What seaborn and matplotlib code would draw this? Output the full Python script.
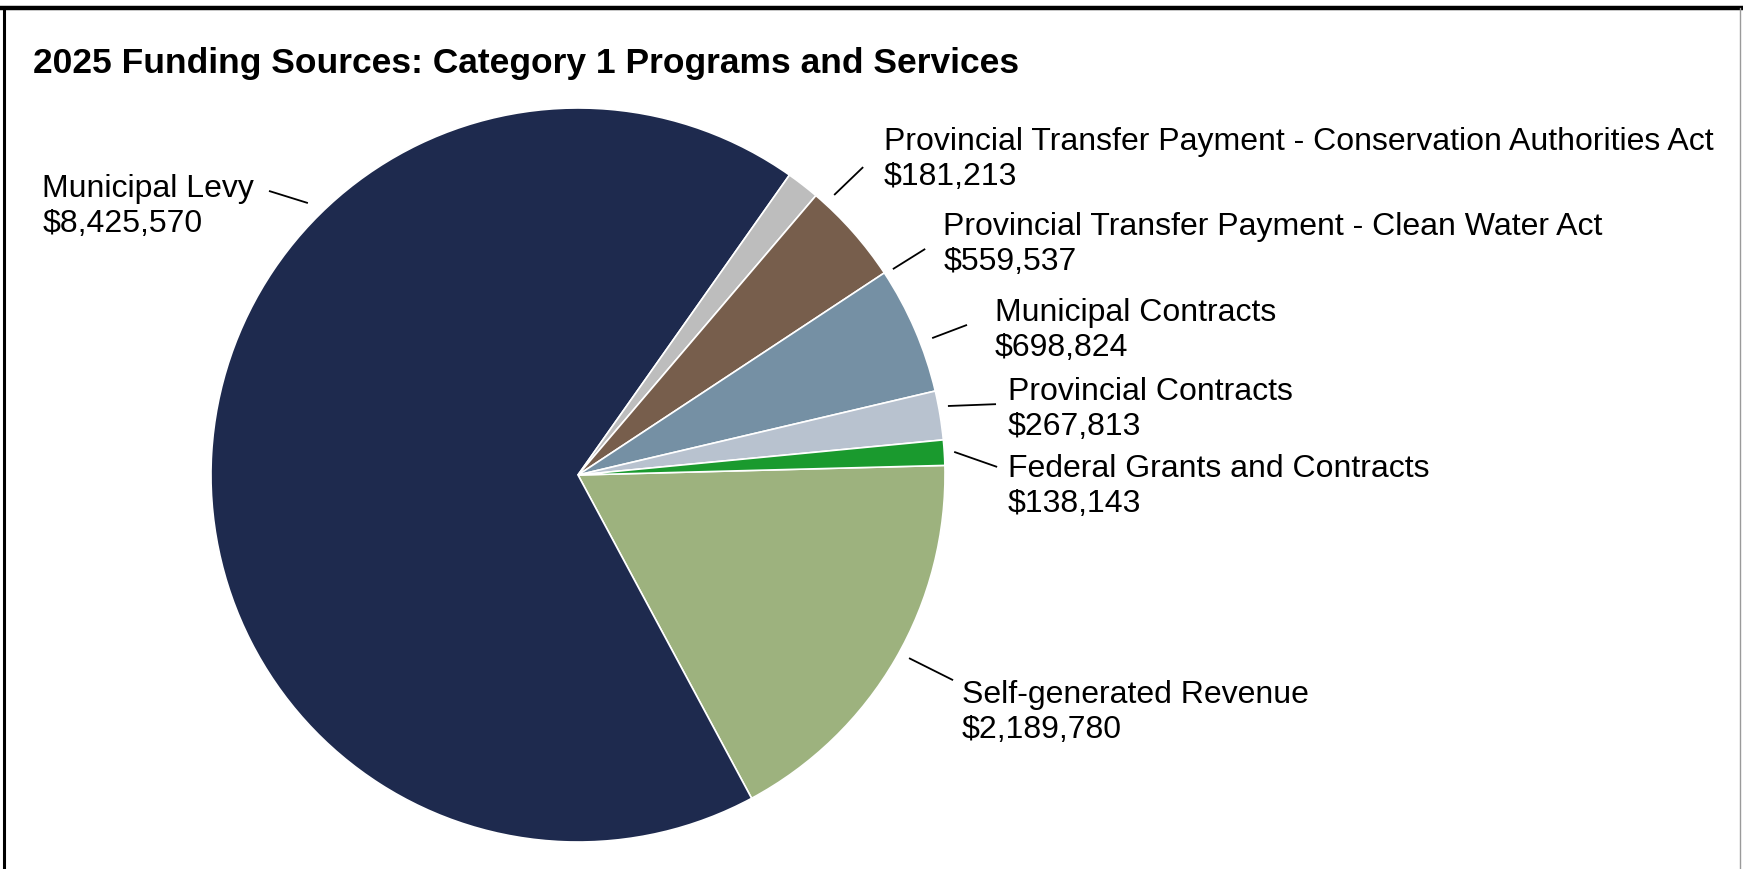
import matplotlib
matplotlib.use("Agg")
import matplotlib.pyplot as plt
import seaborn as sns
from matplotlib.lines import Line2D

# ---- data ----
categories = [
    "Self-generated Revenue",
    "Municipal Levy",
    "Provincial Transfer Payment - Conservation Authorities Act",
    "Provincial Transfer Payment - Clean Water Act",
    "Municipal Contracts",
    "Provincial Contracts",
    "Federal Grants and Contracts",
]
values = [2189780, 8425570, 181213, 559537, 698824, 267813, 138143]
colors = ["#9DB27E", "#1E2A4E", "#BDBDBD", "#775E4C", "#7590A4", "#B8C2CF", "#1A9A2E"]
title = "2025 Funding Sources: Category 1 Programs and Services"

# ---- layout (label anchor positions and leader lines, in pie-radius units) ----
label_pos = [(1.046, -0.646), (-1.460, 0.731), (0.834, 0.860), (0.995, 0.629),
             (1.136, 0.393), (1.172, 0.179), (1.172, -0.032)]
leaders = [((0.902, -0.499), (1.022, -0.559)),
           ((-0.842, 0.774), (-0.736, 0.741)),
           ((0.698, 0.763), (0.777, 0.839)),
           ((0.858, 0.561), (0.946, 0.616)),
           ((0.965, 0.373), (1.060, 0.409)),
           ((1.008, 0.188), (1.139, 0.193)),
           ((1.025, 0.063), (1.142, 0.022))]

sns.set_theme(style="white")
plt.rcParams['font.family'] = ['Liberation Sans', 'DejaVu Sans']

W, H = 1743, 869
fig = plt.figure(figsize=(W / 100, H / 100), dpi=100)
fig.patch.set_facecolor("white")
ax = fig.add_axes([0, 0, 1, 1])
ax.set_facecolor("white")

R = 367.0
cx, cy = 578.0, 475.0

ax.pie(values, colors=colors, startangle=1.5, counterclock=False, radius=1.0,
       center=(0, 0), wedgeprops=dict(edgecolor="white", linewidth=1.2), frame=False)
ax.set_xlim(-cx / R, (W - cx) / R)
ax.set_ylim(-(H - cy) / R, cy / R)
ax.set_aspect("equal")
ax.axis("off")

for cat, val, (lx, ly), (p0, p1) in zip(categories, values, label_pos, leaders):
    ax.text(lx, ly, f"{cat}\n${val:,}", ha="left", va="center", fontsize=23,
            color="black", linespacing=1.22)
    ax.plot([p0[0], p1[0]], [p0[1], p1[1]], color="black", linewidth=1.3,
            solid_capstyle="butt")

fig.text(33 / W, 1 - 63 / H, title, ha="left", va="center", fontsize=25.5,
         fontweight="bold", color="black")

# frame border
fig.add_artist(Line2D([0, 1], [1 - 8 / H, 1 - 8 / H], transform=fig.transFigure,
                      color="black", linewidth=3.2))
fig.add_artist(Line2D([4 / W, 4 / W], [0, 1 - 8 / H], transform=fig.transFigure,
                      color="black", linewidth=2.2))
fig.add_artist(Line2D([1 - 3 / W, 1 - 3 / W], [0, 1 - 8 / H], transform=fig.transFigure,
                      color="#9A9A9A", linewidth=1.0))

fig.savefig("out.png", dpi=100, facecolor="white")
